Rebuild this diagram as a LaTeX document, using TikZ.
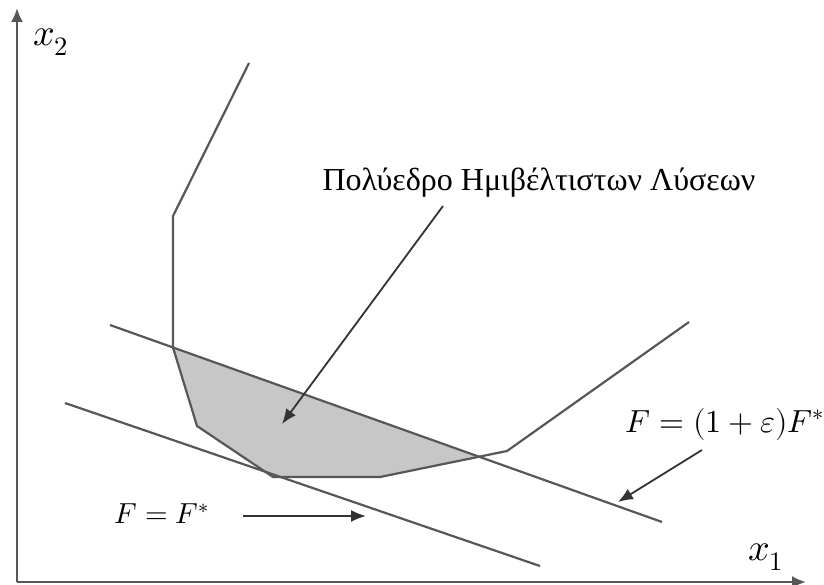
\documentclass[tikz,border=0pt]{standalone}
\usepackage{fontspec}
\usepackage{unicode-math}
\setmainfont{Liberation Serif}
\setmathfont{Latin Modern Math}
\usetikzlibrary{arrows.meta}
\colorlet{bound}{black!66}
\colorlet{region}{black!22}
\tikzset{
  axis/.style={draw=bound,line width=2.2pt,-{Latex[length=14pt,width=12pt]}},
  cline/.style={draw=bound,line width=2.2pt},
  ptr/.style={draw=black!80,line width=1.8pt,-{Latex[length=15pt,width=12pt]}},
  lbl/.style={inner sep=0pt,font=\fontsize{32}{34}\selectfont}
}

\begin{document}
\begin{tikzpicture}[x=1pt,y=-1pt]
  \useasboundingbox (0,0) rectangle (824,585);
  % shaded region of near-optimal solutions
  \fill[region] (173,347.5) -- (197,426) -- (273,477) -- (380,477) -- (480.3,457.4) -- cycle;
  % axes
  \coordinate (o) at (17,582);
  \coordinate (xend) at (806,582);
  \coordinate (yend) at (17,8);
  \draw[axis] (o) -- (xend);
  \draw[axis] (o) -- (yend);
  \node[lbl,font=\fontsize{38}{40}\selectfont] (xa) at (766,557) {$x_1$};
  \node[lbl,font=\fontsize{38}{40}\selectfont] (ya) at (51,42) {$x_2$};
  % feasible boundary
  \draw[cline] (249,63) -- (173,216) -- (173,347.5) -- (197,426) -- (273,477)
    -- (380,477) -- (507,451) -- (689,322);
  % objective lines
  \draw[cline] (110,325) -- (662,522);
  \draw[cline] (65,403) -- (540,566);
  % labels and pointers
  \node[lbl] (poly) at (539,183) {Πολύεδρο Ημιβέλτιστων Λύσεων};
  \coordinate (polyA) at (443,206);
  \coordinate (polyB) at (282,424);
  \draw[ptr] (polyA) -- (polyB);
  \node[lbl] (feps) at (725,424) {$F=(1+\varepsilon)F^{*}$};
  \coordinate (fepsA) at (702,450);
  \coordinate (fepsB) at (618,502);
  \draw[ptr] (fepsA) -- (fepsB);
  \node[lbl,font=\fontsize{29}{31}\selectfont] (fopt) at (162,514) {$F=F^{*}$};
  \coordinate (foptA) at (243,516);
  \coordinate (foptB) at (366,516);
  \draw[ptr] (foptA) -- (foptB);
\end{tikzpicture}
\end{document}
